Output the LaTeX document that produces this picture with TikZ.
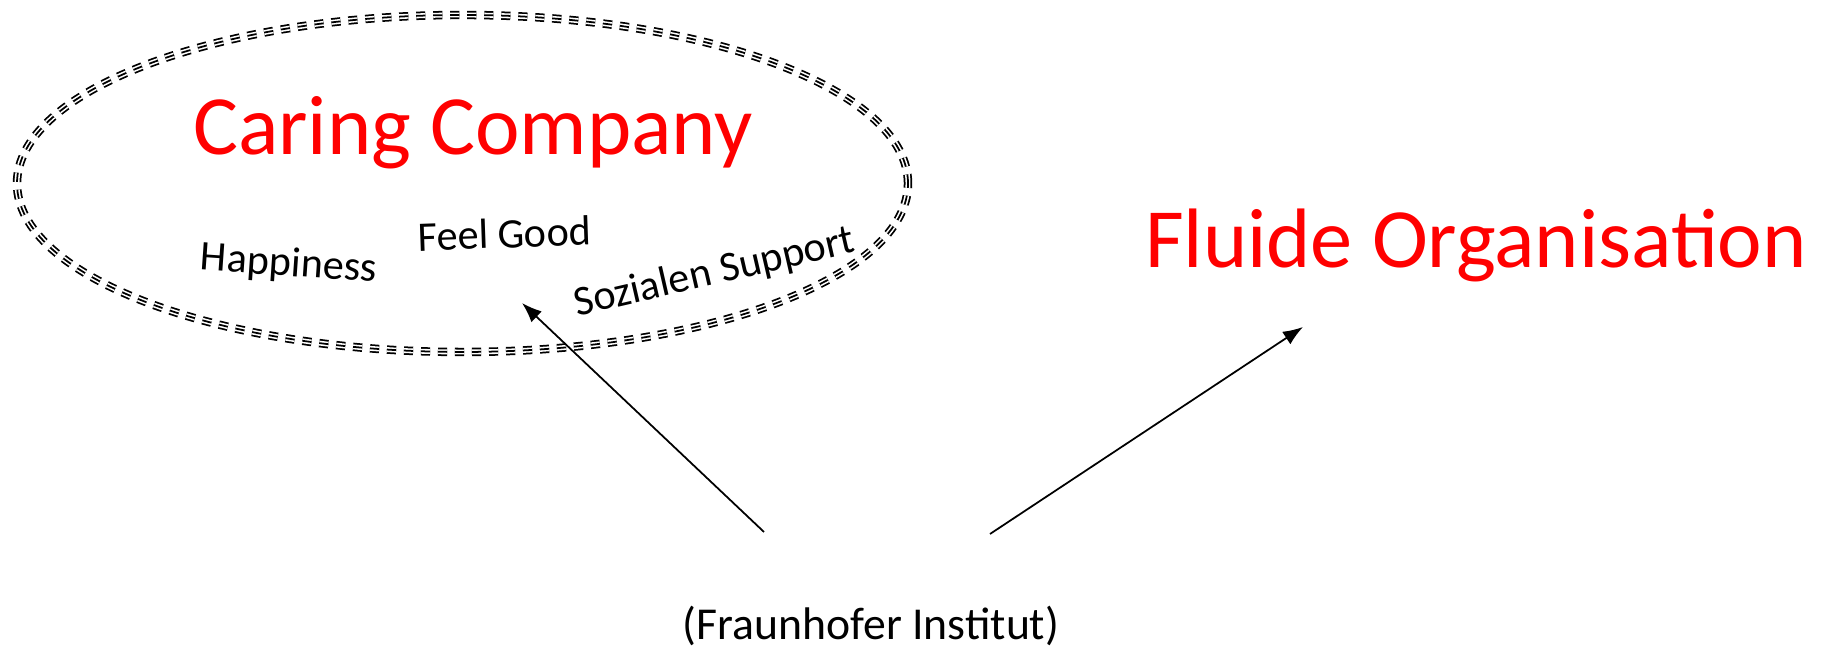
\documentclass[tikz,border=0pt]{standalone}
\usepackage{fontspec}
\setmainfont{Carlito}
\usetikzlibrary{arrows.meta}

\begin{document}
\begin{tikzpicture}[
    headline/.style={text=red, font=\fontsize{24}{28}\selectfont, anchor=base, inner sep=0pt},
    keyword/.style={font=\fontsize{12}{14}\selectfont, anchor=base, inner sep=0pt},
    pointer/.style={-{Latex[length=2mm,width=1.5mm]}, line width=0.5pt},
    tripledash/.style={line width=0.5pt, dash pattern=on 2.6pt off 2.24pt}
  ]
  \useasboundingbox (0,0) rectangle (18.3,6.48);

  % Ellipse
  \def\rx{4.455}
  \def\ry{1.685}
  \draw[tripledash, double=white, double distance=1.4pt] (4.625,4.645) ellipse [x radius=\rx, y radius=\ry];
  \draw[tripledash] (4.625,4.645) ellipse [x radius=\rx, y radius=\ry];

  % Headlines
  \node[headline] (caring) at (4.73,4.93) {Caring Company};
  \node[headline] (fluid) at (14.76,3.80) {Fluide Organisation};

  % Keywords
  \node[keyword, rotate=-4] (happiness) at (2.88,3.72) {Happiness};
  \node[keyword, rotate=2] (feelgood) at (5.05,4.00) {Feel Good};
  \node[keyword, rotate=13] (support) at (7.17,3.64) {Sozialen Support};

  % Source
  \node[keyword, font=\fontsize{13}{15}\selectfont] (fraunhofer) at (8.71,0.08) {(Fraunhofer Institut)};

  % Arrows
  \coordinate (srcleft) at (7.64,1.16);
  \coordinate (srcright) at (9.90,1.14);
  \coordinate (tipcaring) at (5.22,3.45);
  \coordinate (tipfluid) at (13.03,3.21);
  \draw[pointer] (srcleft) -- (tipcaring);
  \draw[pointer] (srcright) -- (tipfluid);
\end{tikzpicture}
\end{document}
